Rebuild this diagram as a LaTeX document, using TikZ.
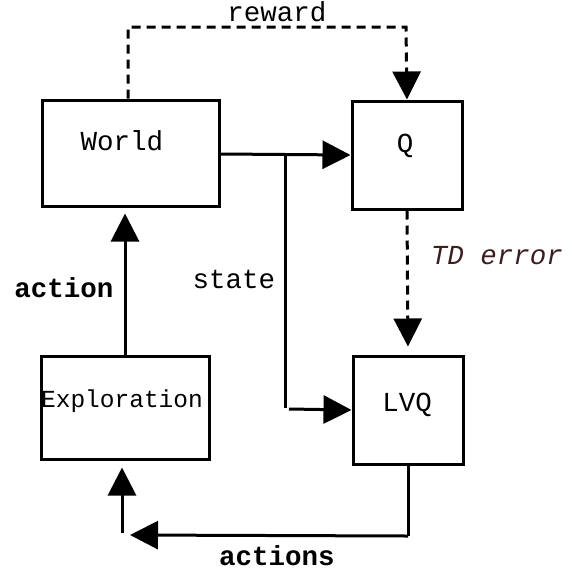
\documentclass[tikz,border=0pt]{standalone}
\usepackage{fontspec}
\setmainfont{Liberation Mono}
\usetikzlibrary{arrows.meta}
\definecolor{tdcol}{RGB}{60,30,30}
\tikzset{
  box/.style={draw, line width=3pt, inner sep=0pt},
  tip/.style={-{Triangle[length=28pt,width=28pt]}},
  conn/.style={line width=3pt, tip},
  plain/.style={line width=3pt},
  dline/.style={line width=3pt, dash pattern=on 9pt off 6pt},
  lbl/.style={anchor=base, inner sep=0pt, font=\fontsize{27.5}{30}\selectfont},
}
\begin{document}
\begin{tikzpicture}[x=1pt,y=-1pt]
\useasboundingbox (0,0) rectangle (580,576);
% boxes
\node[box, minimum width=177pt, minimum height=106pt] (world) at (130.5,153) {};
\node[box, minimum width=110pt, minimum height=108pt] (q) at (407,155) {};
\node[box, minimum width=110pt, minimum height=108pt] (lvq) at (408,410) {};
\node[box, minimum width=168pt, minimum height=103pt] (expl) at (125,407.5) {};
% box texts
\node[lbl] (worldt) at (122,150) {World};
\node[lbl] (qt) at (405,152) {Q};
\node[lbl] (lvqt) at (407,411) {LVQ};
\node[lbl, font=\fontsize{24.5}{27}\selectfont] (explt) at (122,407) {Exploration};
% labels
\node[lbl] (rewardt) at (277,21.5) {reward};
\node[lbl] (statet) at (234,288) {state};
\node[lbl, font=\fontsize{27.5}{30}\selectfont\bfseries] (actiont) at (64,297) {action};
\node[lbl, font=\fontsize{27.5}{30}\selectfont\bfseries] (actionst) at (277,565) {actions};
\node[lbl, font=\fontsize{27.5}{30}\selectfont\itshape, text=tdcol] (tdt) at (497,264) {TD error};
% coordinates
\coordinate (r1) at (128,27);
\coordinate (r2) at (406,27);
\coordinate (br) at (285,154);
\coordinate (bb) at (285,408);
\coordinate (bs) at (289,409);
\coordinate (a1) at (408,536);
\coordinate (a2) at (130,535);
\coordinate (e0) at (122,533);
% connectors
\draw[dline, tip] (world.north -| r1) -- (r1) -- (r2) -- (q.north);
\draw[conn] (world.east |- br) -- (q.west);
\draw[plain] (br) -- (bb);
\draw[conn] (bs) -- (lvq.west);
\draw[dline, tip, shorten >=8pt] (q.south) -- (lvq.north);
\draw[conn, shorten >=6pt] (expl.north) -- (expl.north |- world.south);
\draw[plain] (lvq.south) -- (a1);
\draw[conn] (a1) -- (a2);
\draw[conn, shorten >=7pt] (e0) -- (e0 |- expl.south);
\end{tikzpicture}
\end{document}
